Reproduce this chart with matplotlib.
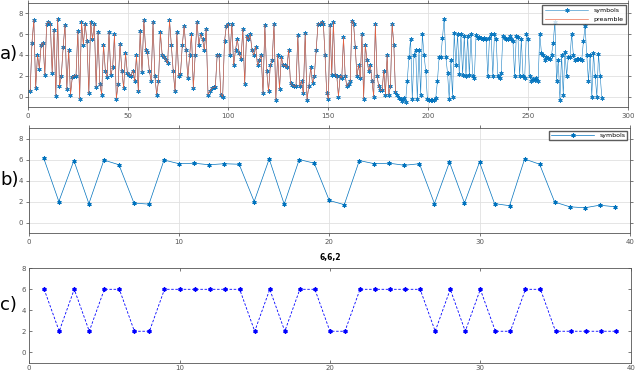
import numpy as np
import matplotlib.pyplot as plt

# ---- data ----
# a) received symbols, first part (samples ~1..145)
sym_a = [0.5, 5.2, 7.4, 0.8, 4.0, 2.7, 5.0, 5.2, 2.1, 7.0, 7.2, 7.0, 2.3, 6.4, 0.1, 7.5,
         1.0, 2.0, 4.8, 6.9, 0.7, 4.5, 0.2, 1.9, 2.0, 2.0, 6.3, -0.2, 7.2, 5.0, 7.0, 5.3,
         0.3, 7.2, 5.5, 7.0, 0.9, 6.2, 1.2, 0.2, 5.0, 2.5, 1.9, 6.2, 2.1, 2.8, 6.0, -0.2,
         1.2, 5.1, 2.5, 0.8, 4.2, 2.3, 2.1, 2.0, 2.5, 1.5, 4.0, 0.5, 6.3, 2.4, 7.4, 4.5,
         4.3, 2.5, 1.5, 7.2, 2.0, 0.2, 1.5, 6.2, 4.0, 3.8, 3.5, 3.2, 7.4, 5.0, 2.5, 0.5,
         6.2, 2.0, 2.2, 5.0, 6.8, 4.5, 1.8, 4.0, 6.0, 0.8, 4.0, 7.2, 5.0, 6.0, 5.5, 4.5,
         6.5, 0.2, 0.5, 0.8, 0.9, 0.9, 4.0, 4.0, 0.2, 0.0, 5.3, 6.8, 7.0, 4.0, 7.0, 3.0,
         4.5, 5.5, 4.2, 3.6, 6.5, 1.2, 5.8, 5.5, 6.0, 4.5, 4.0, 4.8, 3.0, 3.5, 4.0, 0.3,
         6.9, 2.5, 0.5, 3.0, 3.5, 7.0, -0.3, 4.0, 0.7, 3.8, 3.0, 3.0, 2.8, 4.5, 1.3, 1.1,
         1.0, 1.0, 5.9, 1.0, 1.5, 0.3, 6.1, -0.3, 1.0, 2.8, 1.3, 2.0, 4.5, 7.0]
# a) received symbols, second part (samples ~146..287)
sym_b = [7.0, 7.2, 7.0, 4.0, 0.3, -0.2, 6.9, 2.1, 7.2, 2.1, 2.0, 0.0, 2.0, 1.8, 5.7, 2.0,
         1.0, 1.2, 1.5, 7.3, 7.0, 4.8, 2.0, 3.0, 1.8, 6.0, -0.2, 5.0, 3.5, 2.5, 3.0, 1.5,
         0.0, 7.0, 2.0, 1.0, 0.6, 0.6, 2.5, 0.2, 4.0, 0.2, 1.0, 7.0, 5.0, 0.4, 0.2, -0.1,
         -0.2, -0.4, -0.1, -0.5, 1.5, 3.8, 5.5, -0.2, 4.0, 4.5, -0.2, 4.5, 0.2, 6.0, 4.0,
         2.5, -0.2, -0.3, -0.3, -0.3, -0.3, -0.1, 1.5, 3.8, 3.8, 5.6, 7.5, 3.8, 2.3, -0.2,
         3.5, 0.0, 6.1, 3.0, 6.0, 2.2, 6.0, 2.1, 5.8, 2.0, 5.8, 2.1, 6.0, 2.0, 1.8, 5.9,
         5.6, 5.7, 5.6, 5.5, 5.6, 5.5, 2.0, 5.6, 6.0, 2.0, 6.0, 5.5, 2.0, 1.8, 2.3, 5.8,
         5.6, 5.5, 5.5, 5.8, 5.5, 5.3, 2.0, 5.8, 5.7, 2.0, 5.5, 2.0, 1.8, 6.0, 5.5, 2.0,
         1.5, 1.7, 1.6, 1.8, 1.5, 6.0, 4.2, 4.0, 3.5, 3.8, 3.7, 3.6, 4.0, 5.2, 7.2, 1.5,
         3.5, -0.3, 4.0, 0.2, 4.3, 2.0, 3.8, 3.8, 6.0, 4.0, 3.5, 3.6, 3.6, 3.6, 3.5, 5.3,
         6.8, 4.0, 1.5, 4.0, 0.0, 4.2, 2.0, 0.0, 4.1, 2.0, -0.1]
preamble_end = 184   # last sample covered by the preamble trace

# b) symbols after decimation
sym_dec = [6.1, 2.0, 5.9, 1.8, 5.95, 5.5, 1.85, 1.75, 5.95, 5.6, 5.65, 5.5, 5.6, 5.55,
           2.0, 6.05, 1.75, 6.0, 5.65, 2.1, 1.7, 5.9, 5.6, 5.65, 5.45, 5.6, 1.8, 5.75,
           1.85, 5.75, 1.8, 1.6, 6.05, 5.55, 1.95, 1.5, 1.4, 1.65, 1.5]

# c) decided symbols
sym_dec_q = [6, 2, 6, 2, 6, 6, 2, 2, 6, 6, 6, 6, 6, 6, 2, 6, 2, 6, 6, 2, 2, 6, 6, 6, 6,
             6, 2, 6, 2, 6, 2, 2, 6, 6, 2, 2, 2, 2, 2]

# sample index axis for panel a
xa = np.concatenate([np.linspace(1, 145, len(sym_a)), np.linspace(146, 287, len(sym_b))])
ya = np.array(sym_a + sym_b)
pre = xa <= preamble_end

blue = '#0072BD'
asterisk = (6, 2, 0)

fig = plt.figure(figsize=(6.4, 3.79), dpi=100)
ax1 = fig.add_axes([0.044, 0.7177, 0.937, 0.2744])
ax2 = fig.add_axes([0.045, 0.3852, 0.939, 0.277])
ax3 = fig.add_axes([0.0455, 0.043, 0.940, 0.249])


def matlab_axes(ax, grid=True, tick_in=False):
    for s in ax.spines.values():
        s.set_color('#555555')
        s.set_linewidth(0.6)
    ax.tick_params(labelsize=5, colors='#444444', length=2, width=0.5,
                   direction='in' if tick_in else 'out',
                   top=True, right=True, labelcolor='#555555', pad=2)
    if grid:
        ax.grid(True, color='#e0e0e0', linewidth=0.6)
        ax.set_axisbelow(True)


# a)
ax1.plot(xa, ya, '-', color=blue, lw=0.4, marker=asterisk, ms=3, mew=0.7,
         alpha=0.9, label='symbols')
ax1.plot(xa[pre], ya[pre], '-', color='#e9603e', lw=0.45, label='preamble')
ax1.set_xlim(0, 300)
ax1.set_ylim(-1, 9)
ax1.set_xticks(range(0, 301, 50))
ax1.set_yticks(range(0, 9, 2))
matlab_axes(ax1)
ax1.legend(loc='upper right', fontsize=4.5, frameon=True, fancybox=False,
           edgecolor='#333333', borderpad=0.4, handlelength=7, labelspacing=0.6,
           borderaxespad=0.3)

# b)
xb = np.arange(1, len(sym_dec) + 1)
ax2.plot(xb, sym_dec, '-', color=blue, lw=0.5, marker=asterisk, ms=3, mew=0.8,
         label='symbols')
ax2.set_xlim(0, 40)
ax2.set_ylim(-1, 9)
ax2.set_xticks(range(0, 41, 10))
ax2.set_yticks(range(0, 9, 2))
matlab_axes(ax2)
ax2.legend(loc='upper right', fontsize=4.5, frameon=True, fancybox=False,
           edgecolor='#333333', borderpad=0.3, handlelength=7, borderaxespad=0.4)

# c)
xc = np.arange(1, len(sym_dec_q) + 1)
ax3.plot(xc, sym_dec_q, color='b', lw=0.6, ls=(0, (3, 2)), marker=asterisk,
         ms=3, mew=1.0)
ax3.set_xlim(0, 40)
ax3.set_ylim(-1, 8)
ax3.set_xticks(range(0, 41, 10))
ax3.set_yticks(range(0, 9, 2))
matlab_axes(ax3, grid=False, tick_in=True)
ax3.set_title('6,6,2', fontsize=5.5, fontweight='bold', pad=6)

fig.text(0.0, 0.857, 'a)', fontsize=13, va='center', ha='left')
fig.text(0.0, 0.525, 'b)', fontsize=13, va='center', ha='left')
fig.text(0.0, 0.195, 'c)', fontsize=13, va='center', ha='left')

fig.savefig('out.png', dpi=100)
